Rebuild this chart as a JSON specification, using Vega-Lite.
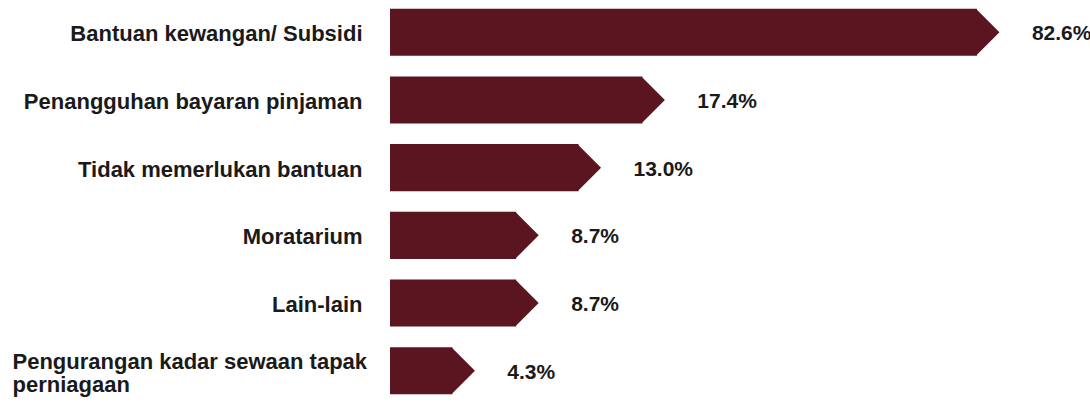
{
  "$schema": "https://vega.github.io/schema/vega-lite/v6.json",
  "width": 700,
  "height": 403,
  "autosize": "none",
  "padding": {"left": 390, "right": 0, "top": 0, "bottom": 0},
  "background": "white",
  "config": {"view": {"stroke": null}},
  "data": {
    "values": [
      {"kategori": "Bantuan kewangan/ Subsidi", "peratus": 0.826},
      {"kategori": "Penangguhan bayaran pinjaman", "peratus": 0.174},
      {"kategori": "Tidak memerlukan bantuan", "peratus": 0.13},
      {"kategori": "Moratarium", "peratus": 0.087},
      {"kategori": "Lain-lain", "peratus": 0.087},
      {"kategori": "Pengurangan kadar sewaan tapak perniagaan", "peratus": 0.043}
    ]
  },
  "encoding": {
    "y": {
      "field": "kategori",
      "type": "nominal",
      "sort": null,
      "scale": {"paddingInner": 0.305, "paddingOuter": 0.128},
      "axis": {
        "title": null,
        "domain": false,
        "ticks": false,
        "labelPadding": {"condition": {"test": "datum.value === 'Pengurangan kadar sewaan tapak perniagaan'", "value": 378}, "value": 28},
        "labelAlign": {"condition": {"test": "datum.value === 'Pengurangan kadar sewaan tapak perniagaan'", "value": "left"}, "value": "right"},
        "labelOffset": {"condition": {"test": "datum.value === 'Pengurangan kadar sewaan tapak perniagaan'", "value": -9}, "value": 2},
        "labelExpr": "datum.value === 'Pengurangan kadar sewaan tapak perniagaan' ? ['Pengurangan kadar sewaan tapak', 'perniagaan'] : datum.label",
        "labelFont": "Liberation Sans",
        "labelFontSize": 22,
        "labelFontWeight": "bold",
        "labelColor": "#1a1a1a",
        "labelBaseline": "middle",
        "labelLineHeight": 23,
        "labelLimit": 0,
        "labelOverlap": false,
        "labelBound": false
      }
    },
    "x": {
      "field": "peratus",
      "type": "quantitative",
      "scale": {"domain": [0, 0.2, 0.9], "range": [0, 290, 622], "nice": false, "zero": false},
      "axis": null
    }
  },
  "layer": [
    {
      "mark": {"type": "bar", "color": "#5a1521", "cornerRadius": 0}
    },
    {
      "mark": {
        "type": "point",
        "shape": "M -0.04 -1 L 0.96 0 L -0.04 1 Z",
        "filled": true,
        "color": "#5a1521",
        "opacity": 1,
        "strokeWidth": 0,
        "size": 2209
      }
    },
    {
      "mark": {
        "type": "text",
        "align": "left",
        "baseline": "middle",
        "dx": 55,
        "dy": 2,
        "font": "Liberation Sans",
        "fontSize": 21,
        "fontWeight": "bold",
        "color": "#1a1a1a"
      },
      "encoding": {
        "text": {"field": "peratus", "type": "quantitative", "format": ".1%"}
      }
    }
  ]
}
